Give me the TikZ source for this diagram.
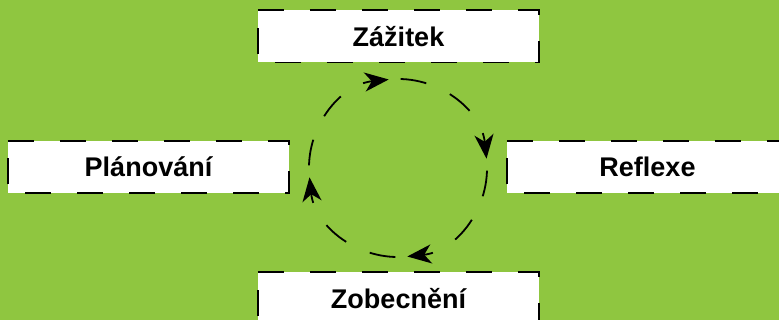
\documentclass[tikz,border=0pt]{standalone}
\usepackage{fontspec}
\setmainfont{Liberation Sans}
\usetikzlibrary{arrows.meta}
\definecolor{bggreen}{RGB}{143,198,64}
\begin{document}
\begin{tikzpicture}[x=1pt,y=1pt,
  stagebox/.style={fill=white, minimum width=281pt, minimum height=52pt,
    inner sep=0pt, font=\fontsize{27}{31}\selectfont\bfseries},
  boxborder/.style={draw=black, line width=1.6pt, dash pattern=on 26pt off 26pt},
  cyc/.style={line width=1.8pt, dash pattern=on 26pt off 26pt, dash phase=40pt,
    -{Stealth[length=24pt,width=19pt,inset=7pt]}}]
\useasboundingbox (0,0) rectangle (779,320);
\clip (0,0) rectangle (779,320);
\fill[bggreen] (0,0) rectangle (779,320);
\node[stagebox] (zazitek) at (398.5,283.5) {Zážitek};
\node[stagebox] (reflexe) at (647.5,153) {Reflexe};
\node[stagebox] (zobecneni) at (398.5,21.5) {Zobecnění};
\node[stagebox] (planovani) at (148.5,153) {Plánování};
\foreach \n in {zazitek,reflexe,zobecneni,planovani}{
  \draw[boxborder] (\n.north west) -- (\n.north east) -- (\n.south east) -- (\n.south west) -- cycle;
}
\coordinate (c) at (398,152);
\draw[cyc] ([shift={(186:89)}]c) arc[start angle=186,end angle=96,radius=89];
\draw[cyc] ([shift={(96:89)}]c) arc[start angle=96,end angle=6,radius=89];
\draw[cyc] ([shift={(6:89)}]c) arc[start angle=6,end angle=-84,radius=89];
\draw[cyc] ([shift={(-84:89)}]c) arc[start angle=-84,end angle=-174,radius=89];
\end{tikzpicture}
\end{document}
